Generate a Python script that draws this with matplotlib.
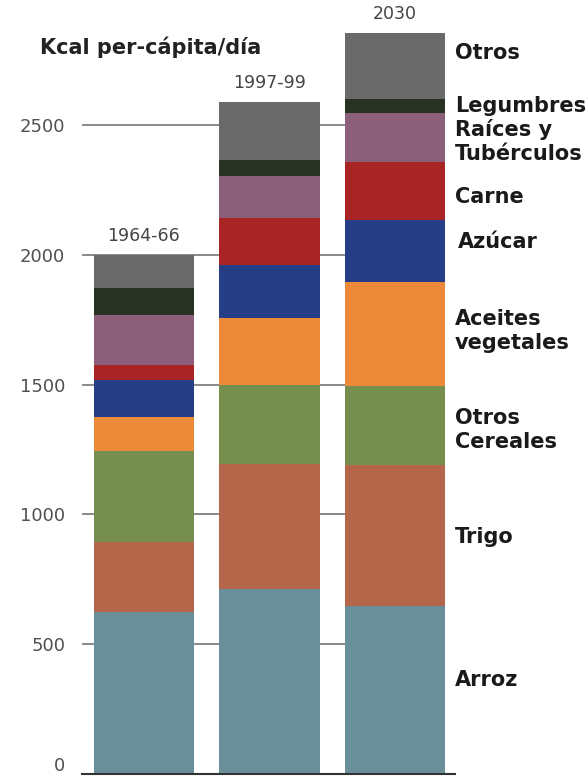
import numpy as np
import matplotlib.pyplot as plt
import matplotlib.transforms as mtransforms

periodos = ['1964-66', '1997-99', '2030']
categorias = ['Arroz', 'Trigo', 'Otros\nCereales', 'Aceites\nvegetales', 'Azúcar',
              'Carne', 'Raíces y\nTubérculos', 'Legumbres', 'Otros']

# kcal per cápita/día por grupo (1964-66, 1997-99, 2030)
arroz = [623, 712, 646]
trigo = [269, 484, 546]
otros_cereales = [354, 304, 304]
aceites = [131, 258, 400]
azucar = [142, 204, 239]
carne = [58, 180, 223]
raices = [192, 162, 188]
legumbres = [104, 61, 54]
otros = [127, 223, 254]

series = [arroz, trigo, otros_cereales, aceites, azucar, carne, raices, legumbres, otros]
colores = ['#698F9A', '#B5664A', '#768F4E', '#EC8A3A', '#263E86',
           '#A92424', '#8B5F79', '#283222', '#6A6A6A']

# posicion vertical de las etiquetas de la derecha (kcal)
etiqueta_y = [362, 913, 1325, 1706, 2049, 2223, 2435, 2573, 2777]
yticks = [0, 500, 1000, 1500, 2000, 2500]

fig = plt.figure(figsize=(5.88, 7.77), dpi=100)
ax = fig.add_axes([82 / 588, 3 / 777, 373 / 588, 774 / 777])

x = np.arange(len(periodos))
ancho = 0.8
base = np.zeros(len(periodos))
for vals, col in zip(series, colores):
    ax.bar(x, vals, ancho, bottom=base, color=col, zorder=3)
    base += np.array(vals)

ax.set_xlim(-0.494, 2.478)
ax.set_ylim(0, 774 / 0.2596)

# lineas guia detras de las barras
ax.hlines(yticks[1:], -0.494, x[-1] + ancho / 2, color='#808080', lw=1.3, zorder=1)

for xi, tot, lab in zip(x, base, periodos):
    ax.annotate(lab, (xi, tot), xytext=(0, 7), textcoords='offset points',
                ha='center', va='bottom', fontsize=12.5, color='#444444')

trans = mtransforms.blended_transform_factory(ax.transAxes, ax.transData)
for lab, yy in zip(categorias, etiqueta_y):
    dx = 0.008 if lab == 'Azúcar' else 0.0
    ax.text(1.0 + dx, yy, lab, transform=trans, ha='left', va='center',
            fontsize=15, fontweight='bold', color='#1a1a1a', linespacing=1.25)

ax.set_yticks(yticks)
ax.set_yticklabels([str(t) for t in yticks], fontsize=13, color='#505050')
ax.tick_params(axis='y', length=0, pad=12)
ax.set_xticks([])
for s in ['left', 'right', 'top']:
    ax.spines[s].set_visible(False)
ax.spines['bottom'].set_color('#333333')
ax.spines['bottom'].set_linewidth(1.5)
ax.spines['bottom'].set_zorder(4)

lbl0 = ax.get_yticklabels()[0]
lbl0.set_transform(lbl0.get_transform() + mtransforms.ScaledTranslation(0, 7 / 72, fig.dpi_scale_trans))

fig.text(40 / 588, 1 - 47 / 777, 'Kcal per-cápita/día', ha='left', va='center',
         fontsize=15, fontweight='bold', color='#222222')

plt.savefig('out.png', dpi=100)
plt.close()
